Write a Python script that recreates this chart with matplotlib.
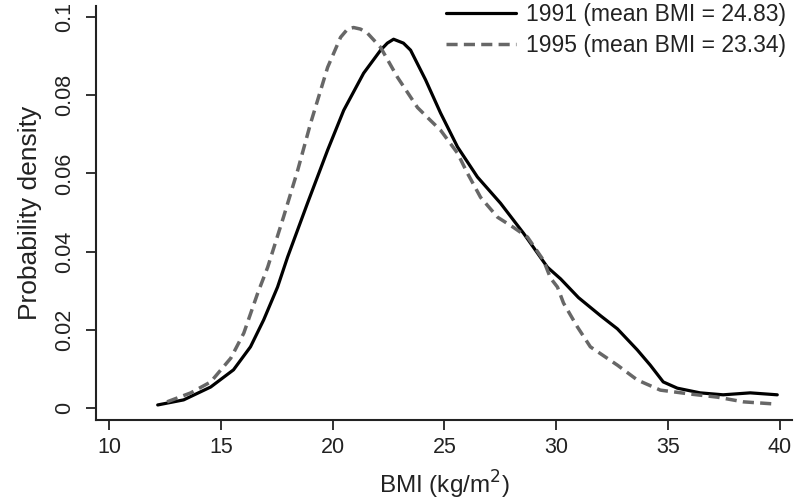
import matplotlib
matplotlib.use("Agg")
import matplotlib.pyplot as plt

plt.rcParams['font.family'] = ['Liberation Sans', 'DejaVu Sans']

# 1991 density curve (BMI, density)
bmi_1991 = [12.18, 13.34, 14.55, 15.57, 16.33, 16.92, 17.54, 17.99, 18.88, 19.78,
            20.50, 21.39, 22.15, 22.45, 22.73, 23.17, 23.49, 24.16, 24.83, 25.59,
            26.48, 27.51, 28.54, 29.61, 30.2, 31.0, 32.0, 32.74, 33.63, 34.21,
            34.79, 35.42, 36.44, 37.47, 38.68, 39.89]
dens_1991 = [0.0007, 0.0020, 0.0053, 0.0097, 0.0156, 0.0225, 0.0309, 0.0386, 0.0524, 0.0660,
             0.0762, 0.0857, 0.0916, 0.0934, 0.0944, 0.0934, 0.0916, 0.0840, 0.0755, 0.0668,
             0.0591, 0.0524, 0.0447, 0.0360, 0.0330, 0.0282, 0.0235, 0.0202, 0.0148, 0.0109,
             0.0066, 0.0050, 0.0038, 0.0033, 0.0038, 0.0033]

# 1995 density curve
bmi_1995 = [12.6, 13.66, 14.55, 15.45, 16.03, 16.65, 17.10, 17.81, 18.44, 19.02,
            19.78, 20.36, 20.67, 20.94, 21.25, 21.57, 22.15, 22.91, 23.80, 24.38,
            24.83, 25.59, 26.03, 26.62, 27.38, 28.09, 28.72, 29.43, 29.75, 30.06,
            30.33, 30.95, 31.53, 32.74, 33.63, 34.66, 36.00, 37.21, 38.37, 39.89]
dens_1995 = [0.0015, 0.0038, 0.0066, 0.0127, 0.0191, 0.0293, 0.0360, 0.0489, 0.0608, 0.0729,
             0.0872, 0.0949, 0.0970, 0.0974, 0.0970, 0.0959, 0.0923, 0.0846, 0.0769, 0.0736,
             0.0711, 0.0652, 0.0601, 0.0539, 0.0488, 0.0462, 0.0437, 0.0378, 0.0332, 0.0309,
             0.0268, 0.0207, 0.0156, 0.0109, 0.0071, 0.0045, 0.0035, 0.0027, 0.0015, 0.0009]

labels = ["1991 (mean BMI = 24.83)", "1995 (mean BMI = 23.34)"]
xticks = [10, 15, 20, 25, 30, 35, 40]
yticks = [0, 0.02, 0.04, 0.06, 0.08, 0.1]
yticklabels = ["0", "0.02", "0.04", "0.06", "0.08", "0.1"]

fig = plt.figure(figsize=(7.94, 5.04), dpi=100)
ax = fig.add_axes([0.1209, 0.1667, 0.8766, 0.8213])

ax.plot(bmi_1991, dens_1991, color='black', lw=2.3, label=labels[0],
        solid_joinstyle='round', solid_capstyle='round')
ax.plot(bmi_1995, dens_1995, color='#676767', lw=2.5, dashes=(3.2, 1.8), label=labels[1])

ax.set_xlim(9.42, 40.55)
ax.set_ylim(-0.00315, 0.1029)
ax.set_xticks(xticks)
ax.set_xticklabels([str(t) for t in xticks])
ax.set_yticks(yticks)
ax.set_yticklabels(yticklabels, rotation=90, va='center')

for s in ['top', 'right']:
    ax.spines[s].set_visible(False)
for s in ['left', 'bottom']:
    ax.spines[s].set_linewidth(1.5)
    ax.spines[s].set_color('#222222')

ax.tick_params(axis='both', direction='out', length=7, width=1.3, color='#222222',
               labelsize=15.5, labelcolor='#222222', pad=5)
ax.tick_params(axis='y', pad=8)

ax.set_xlabel("BMI (kg/m$^2$)", fontsize=17.5, color='#222222', labelpad=8)
ax.set_ylabel("Probability density", fontsize=19, color='#222222', labelpad=9)

leg = fig.legend(handles=ax.get_lines(), labels=labels, loc='upper right',
                 bbox_to_anchor=(786 / 794, 1 - 3 / 504), bbox_transform=fig.transFigure,
                 frameon=False, fontsize=16.5, handlelength=3.05, handletextpad=0.45,
                 labelspacing=0.35, borderaxespad=0.0, borderpad=0.0)
for t in leg.get_texts():
    t.set_color('#222222')

fig.savefig("out.png", dpi=100)
